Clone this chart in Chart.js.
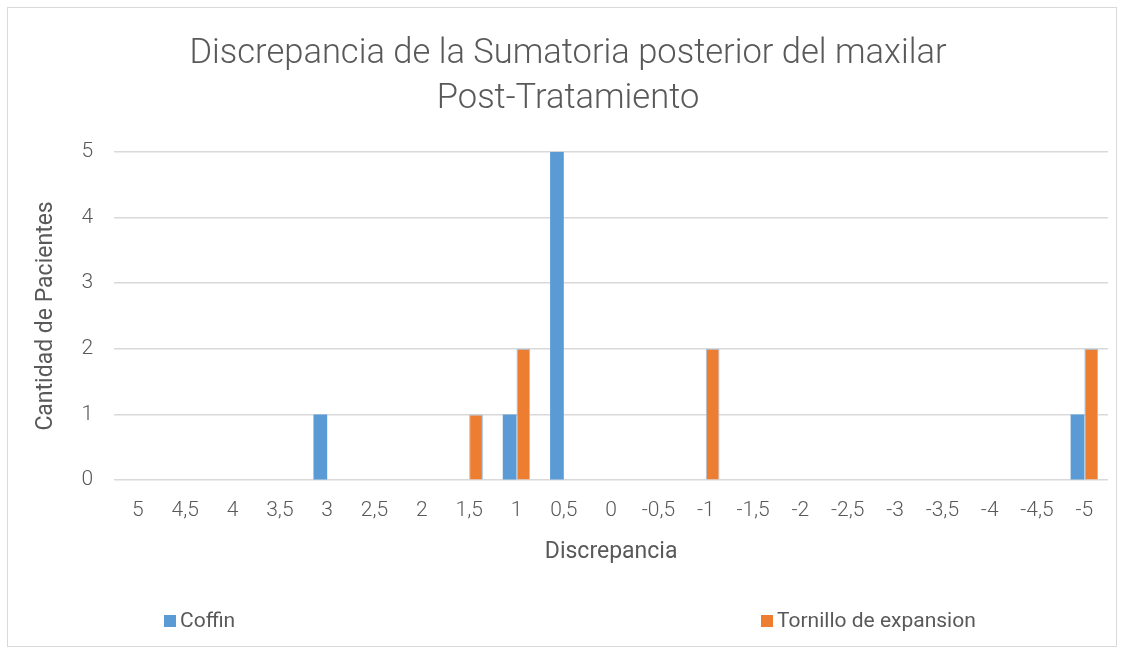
<!DOCTYPE html>
<html>
<head>
<meta charset="utf-8">
<script src="https://cdn.jsdelivr.net/npm/chart.js@4"></script>
<style>
  body { margin: 0; background: #fff; }
  #frame {
    position: absolute; left: 7px; top: 7px;
    width: 1110px; height: 640px;
    border: 1px solid #d9d9d9; box-sizing: border-box;
  }
  #chartBox { position: absolute; left: 0; top: 0; width: 1108px; height: 638px; }
  .leg {
    position: absolute; top: 600px;
    font-family: Roboto, sans-serif; font-size: 21px; color: #595959;
  }
  .leg span { display: inline-block; width: 12px; height: 12px; margin-right: 4px; }
</style>
</head>
<body>
<div id="frame">
  <div id="chartBox"><canvas id="chart"></canvas></div>
  <div class="leg" style="left:156px"><span style="background:#5b9bd5"></span>Coffin</div>
  <div class="leg" style="left:753px"><span style="background:#ed7d31"></span>Tornillo de expansion</div>
</div>
<script>
const categories = ['5', '4,5', '4', '3,5', '3', '2,5', '2', '1,5', '1', '0,5', '0',
  '-0,5', '-1', '-1,5', '-2', '-2,5', '-3', '-3,5', '-4', '-4,5', '-5'];
const coffin = [0, 0, 0, 0, 1, 0, 0, 0, 1, 5, 0, 0, 0, 0, 0, 0, 0, 0, 0, 0, 1];
const tornillo = [0, 0, 0, 0, 0, 0, 0, 1, 2, 0, 0, 0, 2, 0, 0, 0, 0, 0, 0, 0, 2];
const yTicks = [0, 1, 2, 3, 4, 5];

const textColor = '#595959';
const ctx = document.getElementById('chart').getContext('2d');
new Chart(ctx, {
    type: 'bar',
    data: {
        labels: categories,
        datasets: [{
            label: 'Coffin',
            data: coffin,
            backgroundColor: '#5b9bd5',
            borderColor: '#9dc3e6',
            borderWidth: 0,
            categoryPercentage: 0.58,
            barPercentage: 1
        }, {
            label: 'Tornillo de expansion',
            data: tornillo,
            backgroundColor: '#ed7d31',
            borderColor: '#9dc3e6',
            borderWidth: 1,
            categoryPercentage: 0.58,
            barPercentage: 1
        }]
    },
    options: {
        responsive: true,
        maintainAspectRatio: false,
        animation: false,
        layout: { padding: { left: 20, right: 8, top: 16, bottom: 76 } },
        plugins: {
            legend: { display: false },
            tooltip: { enabled: false },
            title: {
                display: true,
                text: ['Discrepancia de la Sumatoria posterior del maxilar', 'Post-Tratamiento'],
                color: textColor,
                font: { family: 'Roboto', size: 34.5, weight: '300', lineHeight: 1.3 },
                padding: { top: 8, bottom: 30 }
            }
        },
        scales: {
            x: {
                grid: { display: false },
                border: { display: false },
                ticks: { color: textColor, font: { family: 'Roboto', size: 21, weight: '300' }, maxRotation: 0, autoSkip: false, padding: 10 },
                title: { display: true, text: 'Discrepancia', color: textColor, font: { family: 'Roboto', size: 23 }, padding: { top: 5 } }
            },
            y: {
                min: 0, max: 5,
                afterBuildTicks: axis => { axis.ticks = yTicks.map(v => ({ value: v })); },
                grid: { color: '#d9d9d9', lineWidth: 1.5, drawTicks: false },
                border: { display: false },
                ticks: { color: textColor, font: { family: 'Roboto', size: 21, weight: '300' }, padding: 21 },
                title: { display: true, text: 'Cantidad de Pacientes', color: textColor, font: { family: 'Roboto', size: 23 }, padding: { bottom: 1 } }
            }
        }
    }
});
</script>
</body>
</html>
